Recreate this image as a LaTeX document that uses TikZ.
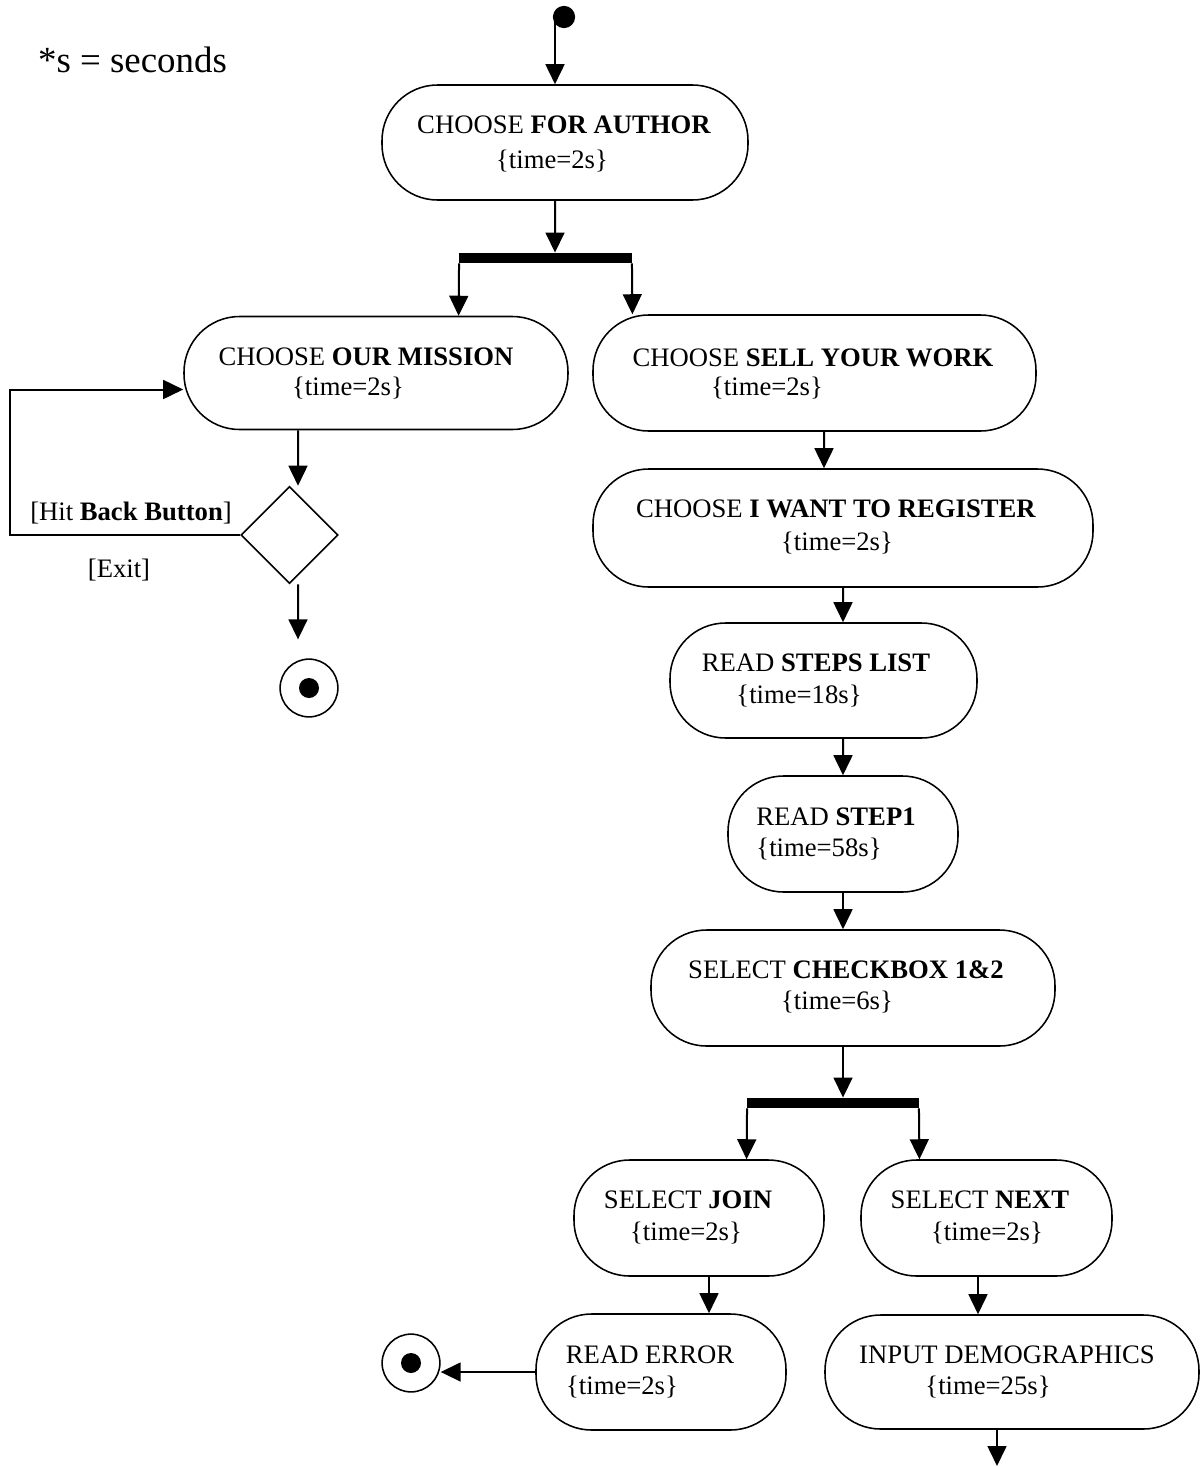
\documentclass[tikz,border=0pt]{standalone}
\usepackage{fontspec}
\setmainfont{Liberation Serif}
\usetikzlibrary{arrows.meta,shapes.geometric}
% one drawing unit = 0.45pt
\newcommand\px[1]{#1*0.45pt}

\begin{document}
\begin{tikzpicture}[x=0.45pt,y=-0.45pt,
  font=\fontsize{12}{14}\selectfont,
  act/.style 2 args={draw, line width=0.7pt, rounded corners=25pt, inner sep=0pt,
    minimum width=#1*0.45pt, minimum height=#2*0.45pt},
  txt/.style={inner sep=0pt},
  bar/.style={fill=black, inner sep=0pt, minimum width=#1*0.45pt, minimum height=4.5pt},
  flow/.style={line width=0.9pt, -{Triangle[length=9pt,width=8.5pt]}},
  final/.style={draw, circle, line width=0.7pt, inner sep=0pt, minimum size=26pt},
  finaldot/.style={fill=black, circle, inner sep=0pt, minimum size=9pt}]

\useasboundingbox (0,0) rectangle (1201,1467);

% legend
\node[txt, font=\fontsize{16.6}{19}\selectfont] (legend) at (132.5,60) {*s = seconds};

% initial node
\node[fill=black, circle, inner sep=0pt, minimum size=10pt] (start) at (564,17) {};

% activities
\node[act={366}{115}] (author)   at (565,142.5) {};
\node[act={384}{113}] (mission)  at (376,373)   {};
\node[act={443}{116}] (sell)     at (814.5,373) {};
\node[act={500}{118}] (register) at (843,528)   {};
\node[act={307}{115}] (steps)    at (823.5,680.5) {};
\node[act={230}{116}] (step1)    at (843,834)   {};
\node[act={404}{116}] (checkbox) at (853,988)   {};
\node[act={250}{116}] (join)     at (699,1218)  {};
\node[act={251}{116}] (next)     at (986.5,1218) {};
\node[act={250}{116}] (error)    at (661,1372)  {};
\node[act={374}{114}] (demo)     at (1012,1372) {};

% activity texts
\node[txt] (authorA)   at (564,125)  {CHOOSE \textbf{FOR AUTHOR}};
\node[txt] (authorB)   at (552,161)  {\{time=2s\}};
\node[txt] (missionA)  at (366,357)  {CHOOSE \textbf{OUR MISSION}};
\node[txt] (missionB)  at (348,388)  {\{time=2s\}};
\node[txt] (sellA)     at (813,358)  {CHOOSE \textbf{SELL YOUR WORK}};
\node[txt] (sellB)     at (767,388)  {\{time=2s\}};
\node[txt] (registerA) at (836,509)  {CHOOSE \textbf{I WANT TO REGISTER}};
\node[txt] (registerB) at (837,543)  {\{time=2s\}};
\node[txt] (stepsA)    at (816,663)  {READ \textbf{STEPS LIST}};
\node[txt] (stepsB)    at (799,696)  {\{time=18s\}};
\node[txt] (step1A)    at (836,817)  {READ \textbf{STEP1}};
\node[txt] (step1B)    at (819,849)  {\{time=58s\}};
\node[txt] (checkboxA) at (846,970)  {SELECT \textbf{CHECKBOX 1\&2}};
\node[txt] (checkboxB) at (837,1002) {\{time=6s\}};
\node[txt] (joinA)     at (688,1200) {SELECT \textbf{JOIN}};
\node[txt] (joinB)     at (686,1233) {\{time=2s\}};
\node[txt] (nextA)     at (980,1200) {SELECT \textbf{NEXT}};
\node[txt] (nextB)     at (987,1233) {\{time=2s\}};
\node[txt] (errorA)    at (650,1355) {READ ERROR};
\node[txt] (errorB)    at (622,1387) {\{time=2s\}};
\node[txt] (demoA)     at (1007,1355) {INPUT DEMOGRAPHICS};
\node[txt] (demoB)     at (988,1387) {\{time=25s\}};

% fork bars
\node[bar={173}] (forkA) at (545.5,258) {};
\node[bar={172}] (forkB) at (833,1103)  {};

% decision
\node[draw, diamond, line width=0.7pt, inner sep=0pt,
      minimum width=\px{97}, minimum height=\px{97}] (decide) at (289.5,535) {};
\node[txt] (backlabel) at (131,513) {[Hit \textbf{Back Button}]};
\node[txt] (exitlabel) at (119,570) {[Exit]};

% final nodes
\node[final] (end1) at (309,688) {};
\node[finaldot] (end1dot) at (end1) {};
\node[final] (end2) at (411,1363) {};
\node[finaldot] (end2dot) at (end2) {};

\coordinate (out) at (997,1466);

% flows
\draw[flow] ([xshift=\px{-9}]start.center) -- ([xshift=\px{-10}]author.north);
\draw[flow] ([xshift=\px{-10}]author.south) -- ([xshift=\px{9.5}]forkA.north);
\draw[flow] ([xshift=\px{0.5}]forkA.south west) -- (mission.north -| forkA.south west);
\draw[flow] ([xshift=\px{-0.5}]forkA.south east) -- (sell.north -| forkA.south east);
\draw[flow] ([xshift=\px{-78}]mission.south) -- ([xshift=\px{8.5}]decide.north);
\draw[flow] ([xshift=\px{8.5}]decide.south) -- ([xshift=\px{-11},yshift=\px{19}]end1.north);
\draw[flow] (decide.west) -- ++(-230,0) |- ([yshift=\px{-16.5}]mission.west);
\draw[flow] ([xshift=\px{9.5}]sell.south) -- ([xshift=\px{-19}]register.north);
\draw[flow] (register.south) -- ([xshift=\px{19.5}]steps.north);
\draw[flow] ([xshift=\px{19.5}]steps.south) -- (step1.north);
\draw[flow] (step1.south) -- ([xshift=\px{-10}]checkbox.north);
\draw[flow] ([xshift=\px{-10}]checkbox.south) -- ([xshift=\px{10}]forkB.north);
\draw[flow] ([xshift=\px{0.5}]forkB.south west) -- (join.north -| forkB.south west);
\draw[flow] ([xshift=\px{-0.5}]forkB.south east) -- (next.north -| forkB.south east);
\draw[flow] ([xshift=\px{10}]join.south) -- ([xshift=\px{48}]error.north);
\draw[flow] ([xshift=\px{-8.5}]next.south) -- ([xshift=\px{-34}]demo.north);
\draw[flow] (error.west) -- (error.west -| end2.east);
\draw[flow] (demo.south -| out) -- (out);

\end{tikzpicture}
\end{document}
